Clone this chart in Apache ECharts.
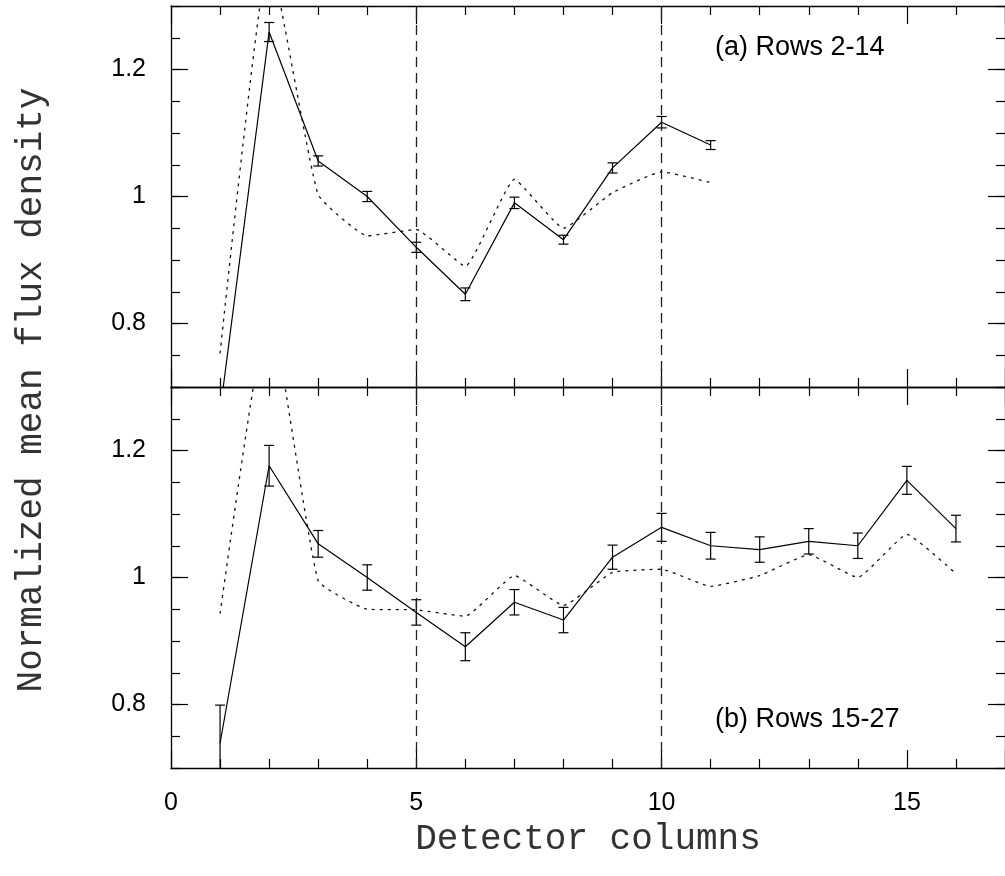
<!DOCTYPE html>
<html>
<head>
<meta charset="utf-8">
<script src="https://cdn.jsdelivr.net/npm/echarts@6/dist/echarts.min.js"></script>
<style>
  html, body { margin: 0; padding: 0; background: #fff; }
  #chart { width: 1005px; height: 876px; }
</style>
</head>
<body>
<div id="chart"></div>
<script>
// Panel (a): rows 2-14
const columnsA = [1, 2, 3, 4, 5, 6, 7, 8, 9, 10, 11];
const fluxA    = [0.661, 1.259, 1.056, 1.000, 0.920, 0.846, 0.990, 0.932, 1.045, 1.117, 1.081];
const errA     = [0.010, 0.015, 0.008, 0.008, 0.008, 0.010, 0.009, 0.007, 0.008, 0.009, 0.007];
const modelA   = [0.753, 1.380, 1.003, 0.938, 0.948, 0.890, 1.027, 0.950, 1.006, 1.039, 1.022];

// Panel (b): rows 15-27
const columnsB = [1, 2, 3, 4, 5, 6, 7, 8, 9, 10, 11, 12, 13, 14, 15, 16];
const fluxB    = [0.739, 1.176, 1.053, 1.000, 0.945, 0.891, 0.961, 0.933, 1.032, 1.079, 1.050, 1.044, 1.057, 1.050, 1.153, 1.077];
const errB     = [0.060, 0.032, 0.021, 0.020, 0.020, 0.022, 0.020, 0.020, 0.019, 0.022, 0.021, 0.020, 0.020, 0.020, 0.022, 0.021];
const modelB   = [0.943, 1.430, 0.995, 0.950, 0.949, 0.939, 1.003, 0.956, 1.008, 1.013, 0.986, 1.003, 1.036, 1.000, 1.068, 1.006];

// Axis ticks and labels
const yLabelValues = [0.8, 1, 1.2];
const boundaryColumns = [5, 10];
const panelTitles = ['(a) Rows 2-14', '(b) Rows 15-27'];
const xTitle = 'Detector columns';
const yTitle = 'Normalized mean flux density';

const INK = '#000';
const AXIS_LINE = { show: true, lineStyle: { color: INK, width: 1.3 } };
const LABEL_FONT = { color: INK, fontFamily: 'Liberation Sans', fontSize: 25 };

const grids = [
  { left: 171, right: -1, top: 6, height: 381 },
  { left: 171, right: -1, top: 387, height: 381 }
];

function xAxisFor(gridIndex, position, withLabels) {
  const ax = {
    gridIndex, type: 'value', position, min: 0, max: 17, interval: 5,
    axisLine: AXIS_LINE,
    axisTick: { show: true, inside: true, length: 18, lineStyle: { color: INK, width: 1.2 } },
    minorTick: { show: true, splitNumber: 5, length: 9, lineStyle: { color: INK, width: 1.2 } },
    splitLine: { show: false },
    axisLabel: { show: withLabels, margin: 23, showMaxLabel: false, ...LABEL_FONT }
  };
  if (withLabels) {
    ax.name = xTitle;
    ax.nameLocation = 'middle';
    ax.nameGap = 53;
    ax.nameTextStyle = { fontFamily: 'Liberation Mono', fontSize: 36, color: '#333' };
  }
  return ax;
}

// Each side of a panel carries a long-tick axis (0.2 steps) and a short-tick axis (0.05 steps)
function yAxesFor(gridIndex, position) {
  const major = {
    gridIndex, type: 'value', position, min: 0.7, max: 1.3,
    axisLine: AXIS_LINE,
    axisTick: { show: true, inside: true, length: 17, customValues: yLabelValues, lineStyle: { color: INK, width: 1.2 } },
    splitLine: { show: false },
    axisLabel: {
      show: position === 'left', margin: 25, customValues: yLabelValues,
      formatter: v => String(Math.round(v * 10) / 10), ...LABEL_FONT
    }
  };
  const minor = {
    gridIndex, type: 'value', position, min: 0.7, max: 1.3, interval: 0.05,
    axisLine: { show: false },
    axisTick: { show: true, inside: true, length: 9, lineStyle: { color: INK, width: 1.2 } },
    splitLine: { show: false },
    axisLabel: { show: false }
  };
  return [major, minor];
}

const xAxes = [
  xAxisFor(0, 'bottom', false), xAxisFor(0, 'top', false),
  xAxisFor(1, 'bottom', true),  xAxisFor(1, 'top', false)
];
const yAxes = [
  ...yAxesFor(0, 'left'), ...yAxesFor(0, 'right'),
  ...yAxesFor(1, 'left'), ...yAxesFor(1, 'right')
];

function errorBars(params, api) {
  const x = api.value(0);
  const lo = api.coord([x, api.value(1)]);
  const hi = api.coord([x, api.value(2)]);
  const w = 5;
  const style = { stroke: INK, lineWidth: 1.2 };
  return {
    type: 'group',
    children: [
      { type: 'line', shape: { x1: hi[0], y1: hi[1], x2: lo[0], y2: lo[1] }, style },
      { type: 'line', shape: { x1: hi[0] - w, y1: hi[1], x2: hi[0] + w, y2: hi[1] }, style },
      { type: 'line', shape: { x1: lo[0] - w, y1: lo[1], x2: lo[0] + w, y2: lo[1] }, style }
    ]
  };
}

function panelSeries(panel, cols, flux, err, model) {
  const xi = panel * 2;      // bottom x axis of the panel
  const yi = panel * 4;      // left long-tick y axis of the panel
  return [
    {
      type: 'line', xAxisIndex: xi, yAxisIndex: yi,
      data: cols.map((c, i) => [c, model[i]]),
      symbol: 'none', smooth: 0.12, clip: true, silent: true,
      lineStyle: { color: '#111', width: 1.3, type: [3, 5] }
    },
    {
      type: 'line', xAxisIndex: xi, yAxisIndex: yi,
      data: cols.map((c, i) => [c, flux[i]]),
      symbol: 'none', clip: true, silent: true,
      lineStyle: { color: INK, width: 1.2 },
      markLine: {
        silent: true, symbol: 'none', label: { show: false },
        lineStyle: { color: '#222', width: 1.3, type: [10, 6] },
        data: boundaryColumns.map(c => ({ xAxis: c }))
      }
    },
    {
      type: 'custom', xAxisIndex: xi, yAxisIndex: yi,
      data: cols.map((c, i) => [c, flux[i] - err[i], flux[i] + err[i]]),
      encode: { x: 0, y: [1, 2] },
      renderItem: errorBars, clip: true, silent: true
    }
  ];
}

const chart = echarts.init(document.getElementById('chart'), null, { renderer: 'canvas' });
chart.setOption({
  animation: false,
  backgroundColor: '#fff',
  grid: grids,
  xAxis: xAxes,
  yAxis: yAxes,
  series: [
    ...panelSeries(0, columnsA, fluxA, errA, modelA),
    ...panelSeries(1, columnsB, fluxB, errB, modelB)
  ],
  graphic: [
    {
      type: 'text', x: 31, y: 390, rotation: Math.PI / 2,
      style: { text: yTitle, font: '36px "Liberation Mono"', fill: '#333', align: 'center', verticalAlign: 'middle' }
    },
    {
      type: 'text', x: 715, y: 48,
      style: { text: panelTitles[0], font: '27px "Liberation Sans"', fill: INK, align: 'left', verticalAlign: 'middle' }
    },
    {
      type: 'text', x: 715, y: 720,
      style: { text: panelTitles[1], font: '27px "Liberation Sans"', fill: INK, align: 'left', verticalAlign: 'middle' }
    }
  ]
});
</script>
</body>
</html>
